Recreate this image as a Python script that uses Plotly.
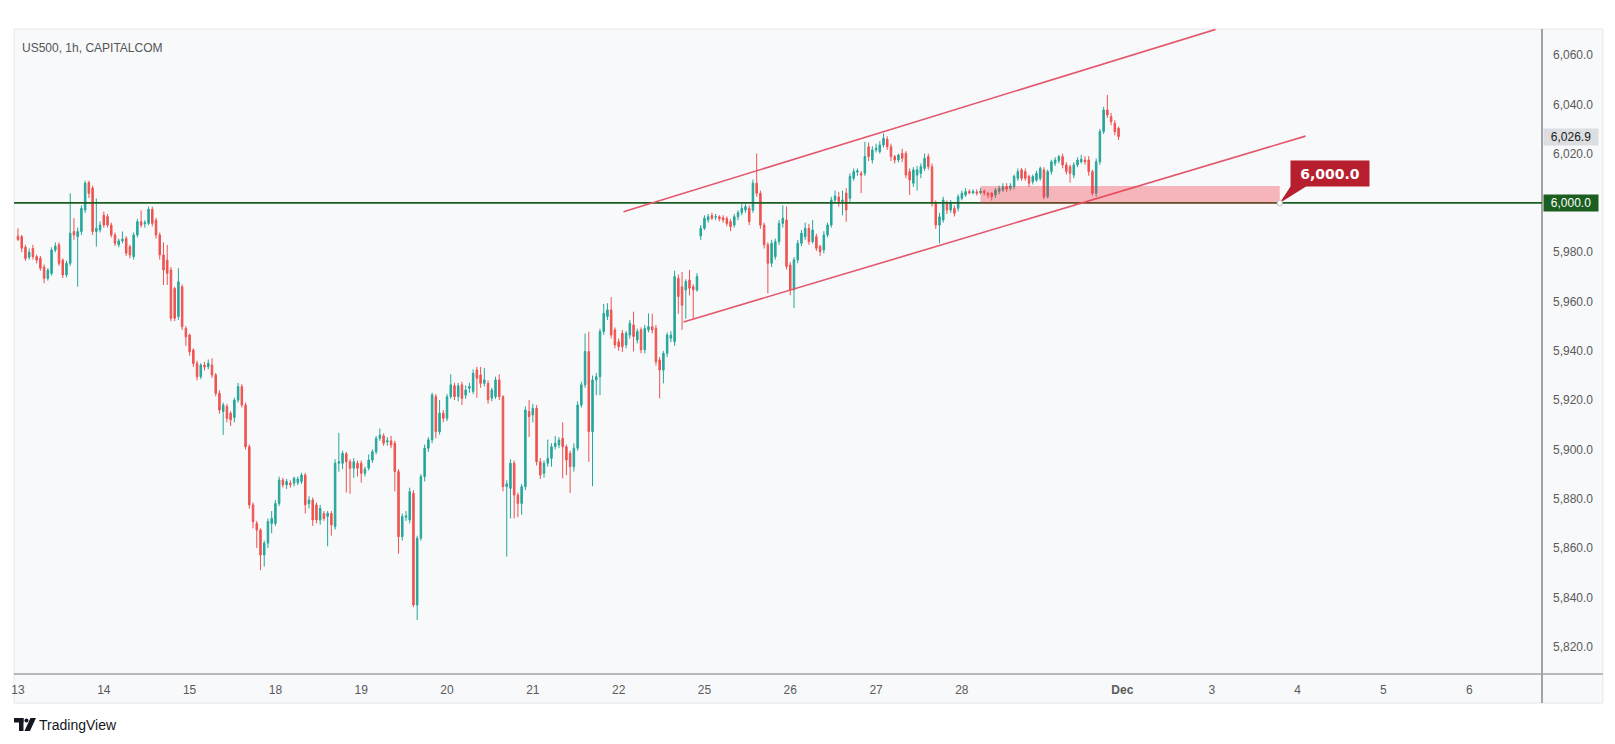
import plotly.graph_objects as go

# ---------------- data (hourly bars, US500) ----------------
opens = [
 5986.5,5986.3,5982.0,5978.0,5981.5,5978.2,5977.5,5974.0,5969.4,5971.4,5980.9,5983.0,5976.8,5970.8,5975.5,5988.4,5986.3,5988.4,5997.1,6008.2,6006.0,5988.4,
 5989.0,5995.0,5994.5,5991.0,5987.0,5983.0,5984.6,5985.6,5982.2,5978.2,5987.0,5992.4,5991.5,5991.7,5997.4,5993.0,5987.0,5978.9,5976.8,5972.8,5965.3,5953.9,5966.0,
 5949.1,5946.4,5940.3,5934.9,5929.5,5934.2,5933.5,5934.2,5930.2,5922.8,5915.4,5917.4,5914.7,5913.0,5920.0,5925.5,5918.0,5901.1,5877.5,5870.0,5867.3,5857.2,5862.0,
 5870.0,5870.0,5878.1,5887.6,5885.6,5886.3,5886.3,5886.5,5887.0,5889.6,5878.0,5879.5,5877.5,5871.4,5874.0,5872.8,5874.0,5868.7,5894.4,5894.4,5898.2,5895.0,5892.4,
 5894.4,5894.4,5890.3,5892.4,5895.7,5899.1,5904.5,5905.5,5903.0,5903.5,5902.5,5891.0,5864.6,5872.5,5871.4,5882.2,5836.9,5864.0,5889.0,5900.5,5903.9,5921.4,5907.2,
 5914.7,5912.6,5921.4,5925.8,5921.4,5926.2,5922.0,5924.8,5923.5,5932.2,5930.2,5926.8,5926.8,5920.8,5921.4,5928.2,5921.4,5884.9,5884.2,5894.4,5881.5,5878.1,5884.9,
 5915.4,5914.0,5916.7,5895.0,5890.3,5894.4,5896.4,5901.1,5901.8,5904.5,5901.1,5898.4,5893.0,5900.5,5918.0,5926.2,5939.7,5907.2,5928.2,5929.5,5947.8,5953.9,5956.6,
 5948.5,5943.7,5947.1,5942.4,5946.4,5950.5,5944.4,5948.5,5940.4,5948.5,5949.8,5949.1,5936.3,5932.2,5939.0,5945.1,5943.7,5969.4,5966.0,5964.7,5968.7,5966.0,5964.7,
 5986.6,5989.7,5993.1,5994.9,5994.2,5994.4,5994.0,5993.7,5992.4,5991.0,5994.4,5996.1,5997.1,5997.8,5997.1,6008.0,6003.9,5991.0,5983.0,5975.5,5978.2,5984.3,
 5991.7,5993.1,5974.8,5964.7,5976.9,5983.6,5986.3,5989.7,5984.3,5986.3,5982.3,5980.9,5987.0,5991.0,6001.2,6002.4,6000.6,6004.0,6001.9,6010.0,6012.5,6012.0,6012.0,
 6022.8,6017.4,6021.5,6020.8,6023.5,6025.8,6022.8,6018.8,6017.4,6020.1,6020.1,6012.7,6008.0,6011.3,6012.0,6014.0,6018.8,6014.7,5999.8,5991.0,5993.1,5999.8,5997.1,
 5997.8,5997.8,6001.9,6003.2,6004.6,6004.1,6004.5,6004.1,6004.8,6003.9,6003.9,6003.2,6004.6,6005.2,6006.6,6005.9,6006.6,6010.0,6013.4,6012.7,6010.7,6008.6,6009.3,6010.0,6013.4,
 6002.5,6012.7,6016.1,6017.1,6018.8,6015.4,6014.7,6011.3,6015.4,6016.7,6017.4,6017.4,6012.7,6003.9,6016.7,6028.9,6037.7,6035.0,6032.3,6030.3,
]
highs = [
 5989.7,5987.0,5983.0,5981.5,5983.0,5979.0,5978.5,5975.0,5973.5,5982.0,5984.0,5984.0,5977.5,5976.5,6003.9,5993.8,5990.0,5999.0,6009.0,6009.0,6007.0,6001.8,
 5992.5,5996.5,5995.5,5992.0,5988.0,5985.5,5988.4,5986.5,5983.0,5988.0,5993.5,5997.0,5993.0,5998.5,5998.5,5994.0,5988.0,5984.0,5983.0,5974.0,5966.0,5973.5,5967.0,
 5950.0,5947.0,5941.0,5936.0,5935.0,5935.5,5936.5,5937.0,5931.0,5924.0,5919.0,5918.5,5915.5,5921.0,5927.0,5926.5,5919.0,5902.0,5878.5,5871.0,5868.0,5863.0,5872.0,
 5875.0,5879.5,5889.0,5888.5,5888.0,5887.5,5889.0,5889.0,5890.5,5890.5,5881.0,5880.5,5878.5,5877.5,5875.0,5875.0,5875.0,5896.0,5906.7,5899.5,5899.0,5896.0,5896.5,
 5895.5,5895.5,5893.0,5898.0,5900.0,5905.5,5908.5,5906.5,5905.0,5905.5,5903.5,5892.0,5874.0,5875.0,5884.5,5883.5,5865.0,5890.0,5902.0,5905.0,5923.0,5922.5,5920.0,
 5916.0,5922.5,5930.5,5927.0,5927.0,5927.5,5926.0,5927.0,5932.5,5933.5,5933.5,5933.0,5928.0,5925.0,5929.5,5930.5,5922.0,5887.5,5896.0,5895.5,5882.5,5886.0,5917.5,
 5920.0,5918.5,5918.0,5896.5,5895.5,5904.0,5902.5,5905.5,5905.0,5911.0,5902.0,5899.5,5902.5,5919.5,5927.5,5947.0,5947.7,5930.0,5931.0,5949.0,5959.0,5959.3,5961.8,
 5949.5,5945.0,5948.5,5948.0,5952.5,5955.9,5949.0,5949.5,5950.5,5955.2,5955.0,5950.5,5937.5,5940.0,5947.5,5948.0,5972.5,5971.0,5972.0,5969.0,5972.8,5967.0,5971.5,
 5991.0,5995.0,5995.5,5996.0,5995.5,5995.0,5995.0,5994.5,5993.5,5995.5,5997.0,5999.5,5999.5,5999.0,6009.5,6020.0,6005.0,5992.0,5984.0,5985.0,5985.5,5993.0,
 5999.0,5998.5,5976.0,5978.0,5985.0,5989.0,5992.0,5991.5,5993.0,5987.5,5983.0,5988.5,5992.0,6002.5,6005.0,6004.5,6005.0,6006.0,6012.0,6014.0,6014.0,6013.0,6024.8,
 6024.5,6023.0,6024.0,6025.0,6028.2,6027.0,6024.0,6019.5,6020.0,6022.0,6021.0,6014.0,6014.5,6015.0,6016.0,6020.0,6020.0,6016.0,6001.0,5996.0,6002.5,6001.0,6001.2,
 5999.0,6003.5,6005.0,6006.0,6005.5,6005.5,6005.5,6006.0,6005.5,6004.5,6004.5,6006.0,6007.0,6008.0,6008.0,6008.0,6011.5,6014.0,6014.2,6014.0,6011.5,6011.5,6013.0,6014.8,6014.5,
 6013.5,6017.5,6018.5,6019.5,6020.0,6016.5,6015.5,6016.5,6018.5,6019.5,6019.0,6019.0,6013.5,6018.0,6030.0,6039.0,6043.8,6036.5,6033.5,6031.0,
]
lows = [
 5984.5,5980.0,5976.5,5977.0,5977.0,5975.5,5972.5,5967.4,5968.5,5970.5,5980.0,5974.5,5969.5,5969.8,5974.5,5985.0,5966.0,5987.0,5996.0,6002.0,5987.0,5982.3,
 5988.0,5990.0,5990.0,5986.0,5982.5,5982.0,5983.6,5978.5,5977.5,5977.0,5986.0,5990.0,5990.0,5991.0,5990.5,5985.5,5977.0,5966.7,5966.7,5952.0,5952.0,5952.5,5948.5,
 5942.0,5938.0,5933.5,5928.0,5928.5,5932.0,5932.5,5929.0,5921.5,5914.5,5905.9,5911.0,5909.5,5911.0,5919.0,5917.0,5900.0,5876.0,5868.0,5860.0,5851.0,5852.5,5860.0,
 5866.0,5869.0,5877.0,5884.5,5884.0,5884.5,5885.0,5885.5,5886.0,5874.0,5876.0,5869.0,5870.0,5869.5,5871.0,5860.7,5865.0,5867.5,5891.0,5892.0,5882.5,5882.0,5888.5,
 5889.0,5886.5,5889.0,5891.5,5894.5,5898.0,5903.5,5901.5,5901.5,5900.5,5883.0,5857.7,5863.0,5871.0,5870.0,5836.0,5830.8,5863.0,5887.0,5899.0,5902.5,5904.5,5906.0,
 5911.0,5911.5,5920.5,5920.0,5919.5,5918.0,5920.5,5923.0,5922.5,5921.0,5925.0,5925.5,5918.5,5919.5,5920.5,5920.0,5883.0,5856.5,5872.0,5872.0,5872.5,5873.5,5883.5,
 5905.0,5911.0,5893.5,5888.0,5888.5,5893.0,5893.0,5900.0,5900.5,5888.3,5889.6,5882.3,5891.0,5899.5,5917.0,5925.0,5895.0,5885.1,5922.0,5922.0,5946.5,5952.5,5945.0,
 5941.0,5940.0,5939.5,5941.0,5945.0,5939.7,5943.0,5939.0,5939.0,5947.5,5947.0,5934.0,5920.7,5926.8,5937.5,5943.5,5942.0,5955.0,5948.5,5953.0,5962.5,5953.2,5964.0,
 5985.0,5989.0,5992.0,5993.0,5993.0,5992.5,5992.0,5990.5,5988.5,5990.0,5993.0,5995.0,5996.0,5991.0,5996.0,6002.5,5989.5,5981.5,5963.3,5974.0,5977.0,5983.0,
 5990.0,5973.0,5962.5,5957.3,5975.5,5982.5,5985.0,5983.0,5983.5,5980.5,5978.5,5979.5,5986.0,5990.0,6000.0,5998.5,5995.0,5992.4,6000.5,6009.0,6011.0,6004.0,6011.0,
 6017.0,6016.0,6020.5,6020.0,6022.5,6021.5,6017.0,6016.0,6016.5,6016.5,6010.0,6003.2,6006.5,6005.0,6010.0,6013.0,6013.5,5998.5,5989.5,5983.6,5992.0,5995.5,5996.0,
 5994.5,5996.5,6001.0,6002.5,6003.5,6003.5,6003.0,6003.5,6003.0,6002.0,6001.0,6002.0,6003.5,6004.5,6004.5,6005.0,6005.5,6009.0,6009.0,6009.0,6006.5,6007.5,6008.5,6009.0,6001.5,
 6001.8,6011.5,6015.0,6016.0,6014.0,6011.5,6008.2,6010.0,6014.5,6016.0,6015.5,6011.0,6003.0,6002.5,6015.5,6028.0,6034.5,6031.5,6027.5,6025.5,
]
closes = [
 5985.2,5981.6,5977.5,5980.0,5978.2,5976.8,5973.5,5969.4,5972.8,5980.9,5982.5,5975.5,5970.8,5975.5,5987.7,5987.0,5988.4,5997.8,6008.0,6003.9,5988.4,5989.7,
 5991.0,5991.0,5991.0,5987.0,5983.6,5984.6,5985.3,5979.6,5978.9,5987.0,5992.4,5991.0,5992.0,5997.4,5991.7,5987.0,5978.9,5972.8,5971.4,5953.2,5953.2,5968.0,5949.8,
 5945.7,5939.6,5934.9,5929.5,5934.2,5933.5,5934.9,5930.2,5922.8,5916.0,5918.0,5912.6,5912.0,5920.0,5925.5,5918.0,5901.1,5877.5,5870.7,5867.3,5857.2,5862.0,5870.7,
 5872.0,5878.1,5887.6,5885.6,5887.0,5885.7,5888.3,5888.0,5889.6,5877.5,5879.5,5871.4,5871.4,5876.1,5872.0,5874.1,5869.4,5894.4,5895.0,5898.4,5895.0,5892.4,5895.0,
 5892.4,5890.3,5892.0,5895.7,5899.1,5904.5,5905.8,5902.5,5903.5,5901.8,5891.0,5864.6,5872.8,5873.0,5882.9,5836.9,5864.0,5889.0,5900.5,5903.9,5922.1,5907.2,5914.7,
 5912.6,5921.4,5926.2,5921.4,5925.8,5920.7,5924.1,5925.5,5930.9,5928.9,5926.8,5928.2,5920.1,5924.1,5928.2,5921.4,5884.9,5886.0,5894.4,5881.5,5878.1,5884.9,5916.0,
 5913.3,5916.7,5895.0,5889.6,5894.4,5896.4,5901.1,5902.5,5903.8,5901.1,5895.7,5893.0,5900.5,5918.0,5926.2,5939.7,5907.2,5928.2,5929.5,5947.8,5955.2,5956.6,5946.4,
 5942.4,5941.7,5941.7,5947.1,5951.2,5945.8,5947.8,5940.4,5949.1,5949.8,5948.5,5935.6,5932.2,5939.0,5946.4,5946.4,5970.1,5962.0,5958.5,5968.1,5965.4,5964.7,5970.1,
 5989.7,5993.8,5994.4,5993.8,5994.4,5993.6,5993.1,5991.7,5990.4,5994.4,5996.1,5997.8,5998.5,5992.4,6008.0,6003.9,5991.0,5983.0,5975.5,5983.6,5984.3,5991.7,
 5993.8,5974.2,5964.7,5976.9,5983.6,5987.7,5989.7,5984.3,5989.0,5981.6,5980.2,5987.0,5991.0,6001.2,6002.8,6000.6,6001.2,5997.1,6010.7,6012.7,6013.0,6011.3,6018.8,
 6018.8,6021.5,6022.2,6023.5,6026.2,6022.8,6018.8,6017.4,6019.4,6018.1,6011.3,6009.3,6013.4,6013.4,6014.7,6018.1,6014.7,5999.8,5991.0,5994.4,6001.2,5997.1,5999.8,
 5995.8,6002.5,6003.9,6004.6,6004.1,6004.6,6003.9,6004.8,6004.1,6003.2,6002.5,6005.2,6005.9,6006.6,6005.6,6006.9,6010.7,6012.7,6010.0,6010.0,6008.0,6010.7,6012.0,6014.0,6002.5,
 6012.7,6016.7,6017.4,6018.8,6015.4,6012.7,6012.0,6015.4,6017.4,6017.7,6016.7,6012.7,6003.9,6016.7,6028.9,6037.7,6035.7,6033.0,6028.9,6026.9,
]

day_ticks = [0, 23, 46, 69, 92, 115, 138, 161, 184, 207, 230, 253, 296, 320, 343, 366, 389]
day_labels = ["13", "14", "15", "18", "19", "20", "21", "22", "25", "26", "27", "28",
              "<b>Dec</b>", "3", "4", "5", "6"]
price_ticks = [5820, 5840, 5860, 5880, 5900, 5920, 5940, 5960, 5980, 6000, 6020, 6040, 6060]
level = 6000.0
last_price = 6026.9
upper_channel_x = [162.3, 321.0]
upper_channel_y = [5996.4, 6070.4]
lower_channel_x = [178.4, 345.1]
lower_channel_y = [5951.7, 6027.1]
zone_x = [258.0, 338.2]
zone_y = [5999.6, 6006.9]
title_text = "US500, 1h, CAPITALCOM"

# ---------------- layout helpers ----------------
W, H = 1615, 744
PL, PR, PT, PB = 11, 1542, 29, 674          # plot area in px
X_RANGE = [-1.07, 408.5]
Y_RANGE = [5808.9, 6070.55]


def px(x):
    return (x - PL) / (PR - PL)


def py(y):
    return (PB - y) / (PB - PT)


def dx(xp):
    return X_RANGE[0] + (xp - PL) / (PR - PL) * (X_RANGE[1] - X_RANGE[0])


def dy(yp):
    return Y_RANGE[0] + (PB - yp) / (PB - PT) * (Y_RANGE[1] - Y_RANGE[0])


UP = "#26a69a"
DOWN = "#ef5350"
PANEL = "#f8f9fb"
FONT = "Liberation Sans"
RED_LINE = "#e4566a"
GREEN_LINE = "#1b5e20"
CALLOUT = "#b81f2e"

fig = go.Figure()
fig.add_trace(go.Candlestick(
    x=list(range(len(opens))), open=opens, high=highs, low=lows, close=closes,
    increasing=dict(line=dict(color=UP, width=1), fillcolor=UP),
    decreasing=dict(line=dict(color=DOWN, width=1), fillcolor=DOWN),
    whiskerwidth=0, hoverinfo="skip", showlegend=False,
))

shapes = []
# chart panel
shapes.append(dict(type="rect", xref="paper", yref="paper", x0=px(11), x1=px(1603),
                   y0=py(703), y1=py(29), fillcolor=PANEL,
                   line=dict(color="#e4e6ea", width=1), layer="below"))
# separators
shapes.append(dict(type="line", xref="paper", yref="paper", x0=px(PR), x1=px(PR),
                   y0=py(703), y1=py(29), line=dict(color="#4d4d4d", width=1)))
shapes.append(dict(type="line", xref="paper", yref="paper", x0=px(11), x1=px(1603),
                   y0=0, y1=0, line=dict(color="#a3a3a3", width=1.5)))
# horizontal 6000 level
shapes.append(dict(type="line", xref="paper", yref="y", x0=0, x1=1, y0=level, y1=level,
                   line=dict(color=GREEN_LINE, width=1.6)))
# channel
shapes.append(dict(type="line", xref="x", yref="y",
                   x0=upper_channel_x[0], x1=upper_channel_x[1],
                   y0=upper_channel_y[0], y1=upper_channel_y[1],
                   line=dict(color=RED_LINE, width=1.6)))
shapes.append(dict(type="line", xref="x", yref="y",
                   x0=lower_channel_x[0], x1=lower_channel_x[1],
                   y0=lower_channel_y[0], y1=lower_channel_y[1],
                   line=dict(color=RED_LINE, width=1.6)))
# zone
shapes.append(dict(type="rect", xref="x", yref="y", x0=zone_x[0], x1=zone_x[1],
                   y0=zone_y[0], y1=zone_y[1], fillcolor="rgba(242,54,69,0.35)",
                   line=dict(width=0), layer="above"))
# callout tail
shapes.append(dict(type="path", xref="x", yref="y",
                   path=f"M {dx(1291)},{dy(185)} L {dx(1308)},{dy(185)} L {zone_x[1]},{level} Z",
                   fillcolor=CALLOUT, line=dict(width=0)))
# small handle at anchor
shapes.append(dict(type="circle", xref="x", yref="y",
                   x0=zone_x[1] - 0.7, x1=zone_x[1] + 0.7, y0=level - 1.2, y1=level + 1.2,
                   fillcolor="white", line=dict(color="#bbbbbb", width=1)))

# TradingView logo (approximate glyph)
shapes.append(dict(type="rect", xref="paper", yref="paper", x0=px(11), x1=px(20.5),
                   y0=py(722.5), y1=py(718), fillcolor="#131722", line=dict(width=0)))
shapes.append(dict(type="rect", xref="paper", yref="paper", x0=px(16), x1=px(20.5),
                   y0=py(731), y1=py(718), fillcolor="#131722", line=dict(width=0)))
shapes.append(dict(type="circle", xref="paper", yref="paper", x0=px(21.5), x1=px(25.5),
                   y0=py(722.5), y1=py(718.5), fillcolor="#131722", line=dict(width=0)))
shapes.append(dict(type="path", xref="paper", yref="paper",
                   path=f"M {px(27.5)},{py(718)} L {px(33)},{py(718)} L {px(27)},{py(731)} L {px(21.5)},{py(731)} Z",
                   fillcolor="#131722", line=dict(width=0)))

annotations = [
    dict(text=title_text, xref="paper", yref="paper", x=px(17), y=py(48),
         xanchor="left", yanchor="middle", showarrow=False,
         font=dict(family=FONT, size=12, color="#555555")),
    dict(text=f"{last_price:,.1f}", xref="paper", yref="y", x=px(PR + 1), y=last_price,
         xanchor="left", yanchor="middle", showarrow=False, bgcolor="#dcdee2",
         width=52, height=14, borderpad=1, align="center",
         font=dict(family=FONT, size=12, color="#1a1a1a")),
    dict(text=f"{level:,.1f}", xref="paper", yref="y", x=px(PR + 1), y=level,
         xanchor="left", yanchor="middle", showarrow=False, bgcolor=GREEN_LINE,
         width=52, height=14, borderpad=1, align="center",
         font=dict(family=FONT, size=12, color="#ffffff")),
    dict(text=f"<b>{level:,.1f}</b>", xref="x", yref="y", x=dx(1330), y=dy(173.5),
         xanchor="center", yanchor="middle", showarrow=False, bgcolor=CALLOUT,
         width=76, height=23, borderpad=1, align="center",
         font=dict(family="DejaVu Sans", size=14, color="#ffffff")),
    dict(text="TradingView", xref="paper", yref="paper", x=px(34), y=py(725),
         xanchor="left", yanchor="middle", showarrow=False,
         font=dict(family=FONT, size=14, color="#131722")),
]

fig.update_layout(
    width=W, height=H,
    margin=dict(l=PL, r=W - PR, t=PT, b=H - PB),
    paper_bgcolor="#ffffff", plot_bgcolor=PANEL,
    shapes=shapes, annotations=annotations,
    boxgap=0.42,
    font=dict(family=FONT, size=12, color="#555555"),
    xaxis=dict(range=X_RANGE, showgrid=False, zeroline=False, showline=False,
               tickmode="array", tickvals=day_ticks, ticktext=day_labels,
               ticks="", ticklabelstandoff=7,
               tickfont=dict(family=FONT, size=12, color="#5a5a5a"),
               rangeslider=dict(visible=False), fixedrange=True),
    yaxis=dict(range=Y_RANGE, side="right", showgrid=False, zeroline=False, showline=False,
               tickmode="array", tickvals=price_ticks, tickformat=",.1f",
               ticks="", ticklabelstandoff=10,
               tickfont=dict(family=FONT, size=12, color="#5a5a5a"), fixedrange=True),
    hovermode=False,
)

fig.write_html("out.html", config={"displayModeBar": False},
               post_script="document.body.style.margin='0px';")
